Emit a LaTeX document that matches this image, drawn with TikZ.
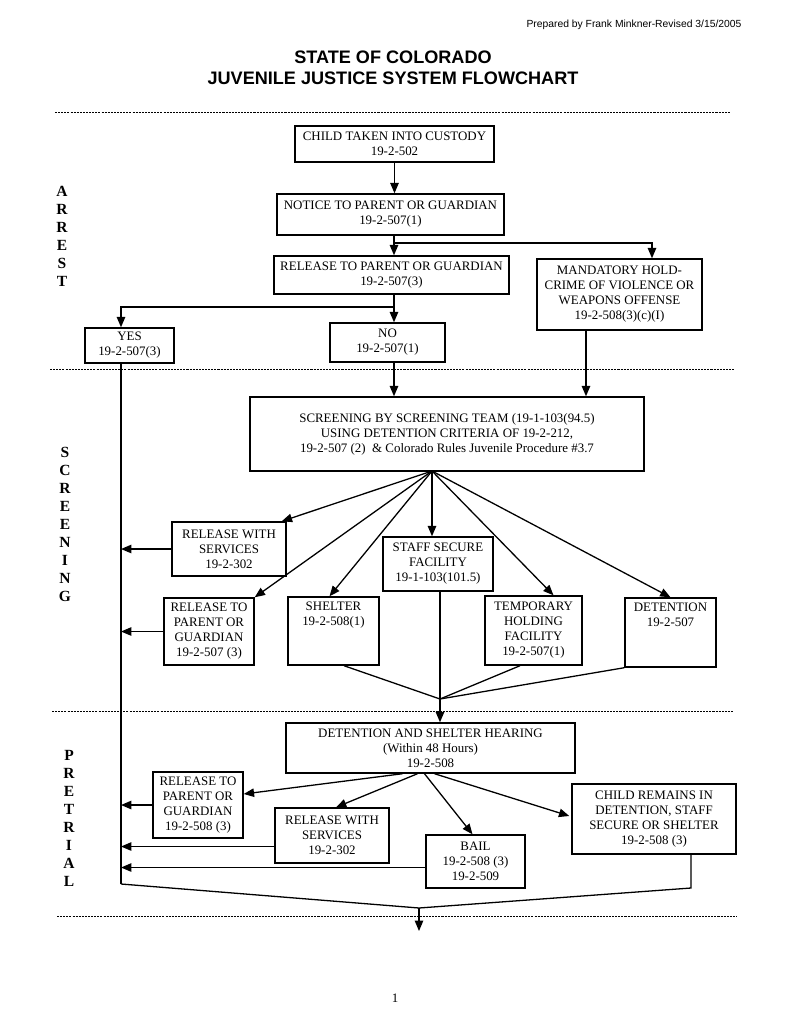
\documentclass[tikz,border=0pt]{standalone}
\usepackage{fontspec}
\setmainfont{Liberation Serif}
\newfontfamily\arialfont{Liberation Sans}
\usepackage{tikz}
\usetikzlibrary{arrows.meta,positioning,calc}
\newcommand{\px}{0.774pt}

\begin{document}
\begin{tikzpicture}[x=\px,y=-\px,every node/.style={font=\fontsize{10}{11.6}\selectfont},
  boite/.style 2 args={draw,line width=1.1pt,align=center,inner sep=1pt,
    minimum width=#1*\px,minimum height=#2*\px},
  txt/.style={align=center,inner sep=0pt},
  lien/.style={line width=1pt},
  fl/.style={lien,-{Triangle[length=8pt,width=6.5pt]}},
  pointille/.style={line width=0.7pt,dash pattern=on 1.6pt off 0.8pt},
  lettres/.style={align=center,font=\fontsize{12}{13.9}\selectfont\bfseries}]
  \useasboundingbox (0,0) rectangle (791,1024);
  % en-tete
  \node[anchor=east,font=\arialfont\fontsize{8}{9}\selectfont] (prep) at (746,25)
     {Prepared by Frank Minkner-Revised 3/15/2005};
  \node[align=center,font=\arialfont\bfseries\fontsize{14}{16.3}\selectfont] (titre) at (393,68)
     {STATE OF COLORADO\\JUVENILE JUSTICE SYSTEM FLOWCHART};
  % separateurs
  \draw[pointille] (55,112)--(730,112);
  \draw[pointille] (50,369)--(734,369);
  \draw[pointille] (52,711)--(734,711);
  \draw[pointille] (57,916)--(737,916);
  % phases
  \node[lettres] (arr) at (62,236) {A\\R\\R\\E\\S\\T};
  \node[lettres] (scrl) at (65,524.5) {S\\C\\R\\E\\E\\N\\I\\N\\G};
  \node[lettres] (pret) at (69,818.5) {P\\R\\E\\T\\R\\I\\A\\L};
  % arrestation
  \node[boite={199}{36}] (child) at (394.5,144) {CHILD TAKEN INTO CUSTODY\\19-2-502};
  \node[boite={227}{41}] (notice) at (390.5,214.5) {NOTICE TO PARENT OR GUARDIAN\\19-2-507(1)};
  \node[boite={235}{38}] (rel) at (391.5,275) {RELEASE TO PARENT OR GUARDIAN\\19-2-507(3)};
  \node[boite={165}{71}] (mand) at (619.5,294.5)
     {MANDATORY HOLD-\\CRIME OF VIOLENCE OR\\WEAPONS OFFENSE\\19-2-508(3)(c)(I)};
  \node[boite={89}{35}] (yes) at (129.5,345.5) {YES\\19-2-507(3)};
  \node[boite={115}{39}] (no) at (387.5,342.5) {NO\\19-2-507(1)};
  % tri
  \node[boite={394}{74}] (scr) at (447,434)
     {SCREENING BY SCREENING TEAM (19-1-103(94.5)\\USING DETENTION CRITERIA OF 19-2-212,\\
      19-2-507 (2)\ \ \& Colorado Rules Juvenile Procedure \#3.7};
  \node[boite={114}{54}] (rws1) at (229,549) {RELEASE WITH\\SERVICES\\19-2-302};
  \node[boite={110}{54}] (staff) at (438,564) {STAFF SECURE\\FACILITY\\19-1-103(101.5)};
  \node[boite={90}{67}] (rtp1) at (209,631.5) {RELEASE TO\\PARENT OR\\GUARDIAN\\19-2-507 (3)};
  \node[boite={91}{68}] (shel) at (333.5,631) {};
  \node[txt,below=4.5pt of shel.north] (shelt) {SHELTER\\19-2-508(1)};
  \node[boite={97}{69}] (temp) at (533.5,630.5) {TEMPORARY\\HOLDING\\FACILITY\\19-2-507(1)};
  \node[boite={91}{69}] (det) at (670.5,632.5) {};
  \node[txt,below=4.5pt of det.north] (dett) {DETENTION\\19-2-507};
  % audience
  \node[boite={289}{50}] (hear) at (430.5,748)
     {DETENTION AND SHELTER HEARING\\(Within 48 Hours)\\19-2-508};
  \node[boite={90}{66}] (rtp2) at (198,805) {RELEASE TO\\PARENT OR\\GUARDIAN\\19-2-508 (3)};
  \node[boite={114}{55}] (rws2) at (332,835.5) {RELEASE WITH\\SERVICES\\19-2-302};
  \node[boite={99}{53}] (bail) at (475.5,861.5) {BAIL\\19-2-508 (3)\\19-2-509};
  \node[boite={164}{70}] (crm) at (654,819)
     {CHILD REMAINS IN\\DETENTION, STAFF\\SECURE OR SHELTER\\19-2-508 (3)};
  \node (page) at (395,998) {1};

  % liens arrestation
  \coordinate (b1) at (394,243);
  \coordinate (b2) at (394,307);
  \coordinate (lft) at (121,884);
  \coordinate (m1) at (586,330);
  \draw[fl] (child.south) -- (child.south |- notice.north);
  \draw[fl] (notice.south -| b1) -- (rel.north -| b1);
  \draw[fl] (b1) -| ($(mand.north)+(32.5,0)$);
  \draw[fl] (rel.south -| b2) -- (no.north -| b2);
  \draw[fl] (b2) -| (yes.north -| lft);
  \draw[fl] (no.south -| b2) -- (scr.north -| b2);
  \draw[fl] (mand.south -| m1) -- (scr.north -| m1);
  \draw[lien] (yes.south -| lft) -- (lft);
  % eventail du tri
  \coordinate (so) at (432,471);
  \draw[fl] (so) -- ($(rws1.north east)+(-5,0)$);
  \draw[fl] (so) -- (rtp1.north east);
  \draw[fl] (so) -- ($(shel.north)+(-4,0)$);
  \draw[fl] (so) -- (staff.north -| so);
  \draw[fl] (so) -- ($(temp.north)+(20,0)$);
  \draw[fl] (so) -- (det.north);
  \draw[fl] (rws1.west) -- (rws1.west -| lft);
  \draw[fl] (rtp1.west) -- (rtp1.west -| lft);
  % convergence vers l'audience
  \coordinate (sj) at (440,699);
  \draw[lien] ($(shel.south)+(10.5,0)$) -- (sj);
  \draw[lien] ($(temp.south)+(-13.5,0)$) -- (sj);
  \draw[lien] (det.south west) -- (sj);
  \draw[lien] (staff.south -| sj) -- (sj);
  \draw[fl] (sj) -- (hear.north -| sj);
  % eventail de l'audience
  \coordinate (r2) at ($(rws2.west)+(0,11)$);
  \coordinate (r3) at ($(bail.west)+(0,6)$);
  \draw[fl] ($(hear.south)+(-28,0)$) -- ($(rtp2.east)+(0,-11)$);
  \draw[fl] ($(hear.south)+(-13,0)$) -- ($(rws2.north)+(4,0)$);
  \draw[fl] ($(hear.south)+(-6,0)$) -- ($(bail.north)+(-3,0)$);
  \draw[fl] ($(hear.south)+(4,0)$) -- ($(crm.west)+(-2,-3)$);
  \draw[fl] (rtp2.west) -- (rtp2.west -| lft);
  \draw[fl] (r2) -- (r2 -| lft);
  \draw[fl] (r3) -- (r3 -| lft);
  % sortie
  \coordinate (jn) at (419,908);
  \coordinate (crb) at (691,888);
  \coordinate (fin) at (419,931);
  \draw[lien] (lft) -- (jn) -- (crb) -- (crm.south -| crb);
  \draw[fl] (jn) -- (fin);
\end{tikzpicture}
\end{document}
